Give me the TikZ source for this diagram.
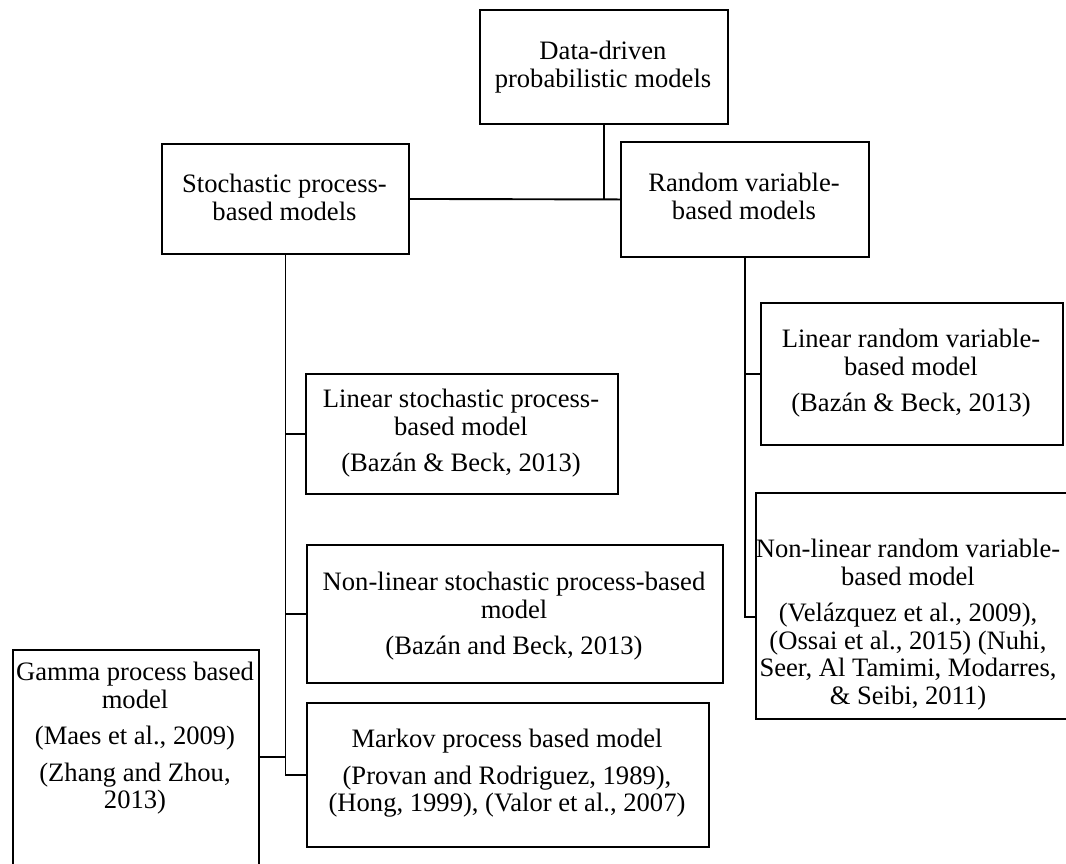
\documentclass[tikz,border=0pt]{standalone}
\usepackage{fontspec}
\setmainfont{Liberation Serif}
\begin{document}
\begin{tikzpicture}[x=1pt,y=-1pt,
  box/.style={draw, line width=1.9pt, anchor=north west, inner sep=0pt},
  txt/.style={anchor=north, align=center, inner sep=0pt, font=\fontsize{26.6}{27.5}\selectfont},
  link/.style={line width=1.9pt}]
\clip (0,0) rectangle (1066,863);
\fill[white] (0,0) rectangle (1066,863);

\node[box, minimum width=248pt, minimum height=114pt] (top) at (479,9) {};
\node[txt] (toptxt) at (603,41) {Data-driven\\probabilistic models};

\node[box, minimum width=247pt, minimum height=110pt] (stoch) at (161,143) {};
\node[txt] (stochtxt) at (284.5,174) {Stochastic process-\\based models};

\node[box, minimum width=248pt, minimum height=115pt] (rand) at (620,141) {};
\node[txt] (randtxt) at (744,173) {Random variable-\\based models};

\node[box, minimum width=312pt, minimum height=120pt] (ls) at (305,373) {};
\node[txt] (lstxt) at (461,389) {Linear stochastic process-\\based model\\[9pt](Bazán \& Beck, 2013)};

\node[box, minimum width=416pt, minimum height=138pt] (nls) at (306,544) {};
\node[txt] (nlstxt) at (514,572) {Non-linear stochastic process-based\\model\\[9pt](Bazán and Beck, 2013)};

\node[box, minimum width=402pt, minimum height=144pt] (mk) at (306,702) {};
\node[txt] (mktxt) at (507,729) {Markov process based model\\[9pt](Provan and Rodriguez, 1989),\\(Hong, 1999), (Valor et al., 2007)};

\node[box, minimum width=246pt, minimum height=240pt] (gm) at (12,649) {};
\node[txt] (gmtxt) at (135,662) {Gamma process based\\model\\[9pt](Maes et al., 2009)\\[9pt](Zhang and Zhou,\\2013)};

\node[box, minimum width=302pt, minimum height=142pt] (lr) at (760,302) {};
\node[txt] (lrtxt) at (911,329) {Linear random variable-\\based model\\[9pt](Bazán \& Beck, 2013)};

\node[box, minimum width=330pt, minimum height=226pt] (nlr) at (755,492) {};
\node[txt] (nlrtxt) at (908,539) {Non-linear random variable-\\based model\\[9pt](Velázquez et al., 2009),\\(Ossai et al., 2015) (Nuhi,\\Seer, Al Tamimi, Modarres,\\\& Seibi, 2011)};

\coordinate (nlrl) at ([yshift=-125pt]nlr.north west);

\draw[link] (top.south) -- (top.south |- stoch.east);
\draw[link] (stoch.east) -- (rand.west);
\draw[link] (stoch.south) -- (stoch.south |- mk.west) -- (mk.west);
\draw[link] (stoch.south |- ls.west) -- (ls.west);
\draw[link] (stoch.south |- nls.west) -- (nls.west);
\draw[link] ([yshift=-108pt]gm.north east) coordinate (gl) -- (gl -| stoch.south);
\draw[link] (rand.south) -- (rand.south |- nlrl) -- (nlrl);
\draw[link] (rand.south |- lr.west) -- (lr.west);
\end{tikzpicture}
\end{document}
